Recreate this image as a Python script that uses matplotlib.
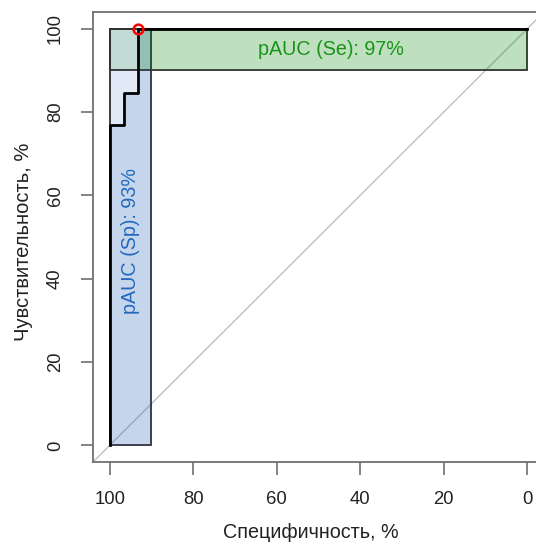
import matplotlib
matplotlib.use('Agg')
import matplotlib.pyplot as plt
from matplotlib.colors import to_rgba
from matplotlib.patches import Rectangle
import numpy as np

plt.rcParams['font.family'] = ['Liberation Sans', 'DejaVu Sans']

# ROC-кривая (в процентах)
specificity = np.array([100, 100, 96.67, 96.67, 93.33, 93.33, 0])
sensitivity = np.array([0, 76.92, 76.92, 84.62, 84.62, 100, 100])
best_point = (93.33, 100)

sp_range = (100, 90)   # pAUC по специфичности
se_range = (100, 90)   # pAUC по чувствительности
sp_label = 'pAUC (Sp): 93%'
se_label = 'pAUC (Se): 97%'
ticks = [0, 20, 40, 60, 80, 100]

blue = '#1c61b6'
green = '#008600'
frame_col = '#707070'

fig = plt.figure(figsize=(5.36, 5.44), dpi=100)
ax = fig.add_axes([93 / 536, 82 / 544, 451 / 536, 450 / 544])
ax.set_xlim(104, -4)
ax.set_ylim(-4, 104)

# диагональ
ax.axline((100, 0), (0, 100), color='#c0c0c0', lw=1.0, zorder=1)

# max-полигоны (прямоугольники)
ax.add_patch(Rectangle((sp_range[1], 0), sp_range[0] - sp_range[1], 100,
                       facecolor=to_rgba(blue, 0x22 / 255), edgecolor='#303030', lw=1.3, zorder=2))
ax.add_patch(Rectangle((0, se_range[1]), 100, se_range[0] - se_range[1],
                       facecolor=to_rgba(green, 0x22 / 255), edgecolor='#303030', lw=1.3, zorder=2))

# площадь под кривой в диапазоне Sp
sp_mask = specificity >= sp_range[1]
sp_x = np.append(specificity[sp_mask], sp_range[1])
sp_y = np.append(sensitivity[sp_mask], np.interp(sp_range[1], specificity[::-1], sensitivity[::-1]))
ax.fill_between(sp_x, 0, sp_y, color=to_rgba(blue, 0x22 / 255), lw=0, zorder=2)

# площадь в диапазоне Se
se_mask = sensitivity >= se_range[1]
se_y = np.insert(sensitivity[se_mask], 0, se_range[1])
se_x = np.insert(specificity[se_mask], 0, np.interp(se_range[1], sensitivity, specificity))
ax.fill_betweenx(se_y, se_x, 0, color=to_rgba(green, 0x22 / 255), lw=0, zorder=2)

ax.plot(specificity, sensitivity, color='black', lw=2.0, zorder=4)
ax.plot(*best_point, 'o', ms=7, mfc='none', mec='red', mew=1.8, zorder=5, clip_on=False)

ax.text(47, 95, se_label, color='#1a931a', fontsize=14.2, ha='center', va='center', zorder=6)
ax.text(95, 49, sp_label, color='#2468bd', fontsize=14.2, ha='center', va='center',
        rotation=90, zorder=6)

ax.set_xticks(ticks)
ax.set_yticks(ticks)
ax.tick_params(axis='both', direction='out', length=9, width=1.2, color=frame_col,
               labelsize=13.3, labelcolor='#222222', pad=12)
for lab in ax.get_yticklabels():
    lab.set_rotation(90)
    lab.set_va('center')
for sp in ax.spines.values():
    sp.set_color(frame_col)
    sp.set_linewidth(1.3)

ax.set_xlabel('Специфичность, %', fontsize=14.2, color='#222222')
ax.set_ylabel('Чувствительность, %', fontsize=14.5, color='#222222')
ax.xaxis.set_label_coords(0.483, -0.135)
ax.yaxis.set_label_coords(-0.133, 0.49)

fig.savefig('out.png', dpi=100)
